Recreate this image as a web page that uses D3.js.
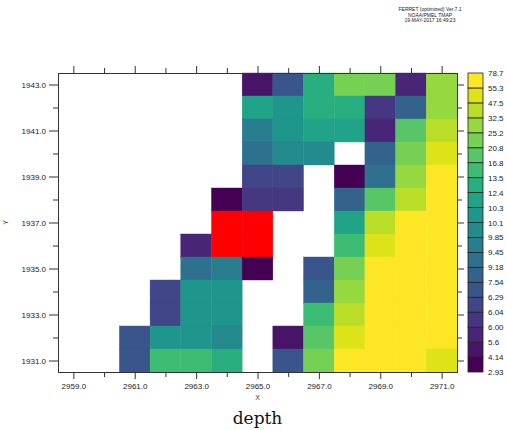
<!DOCTYPE html>
<html>
<head>
<meta charset="utf-8">
<script src="https://cdn.jsdelivr.net/npm/d3@7"></script>
<style>
  html, body { margin: 0; padding: 0; background: #fff; }
  svg { display: block; }
  text { font-family: "Liberation Sans", Arial, sans-serif; }
</style>
</head>
<body>
<svg id="chart" width="507" height="430"></svg>
<script>
// ---- data ----
const xCats = [2959, 2960, 2961, 2962, 2963, 2964, 2965, 2966, 2967, 2968, 2969, 2970, 2971];
const yCats = [1943, 1942, 1941, 1940, 1939, 1938, 1937, 1936, 1935, 1934, 1933, 1932, 1931];
const R = 90; // out-of-range (shown red)
const depth = [
  [null,null,null,null,null,null, 4.9, 6.9, 13.0, 23.0, 23.0, 5.8, 28.8],
  [null,null,null,null,null,null, 11.3, 10.2, 13.0, 13.0, 6.02, 8.4, 28.8],
  [null,null,null,null,null,null, 9.65, 10.2, 11.3, 11.3, 5.8, 18.8, 40.0],
  [null,null,null,null,null,null, 9.3, 9.97, 9.97, null, 8.4, 23.0, 51.4],
  [null,null,null,null,null,null, 6.15, 6.15, null, 3.5, 9.3, 28.8, 67.0],
  [null,null,null,null,null, 3.5, 6.02, 6.02, null, 8.4, 18.8, 40.0, 67.0],
  [null,null,null,null,null, R, R, null, null, 11.3, 40.0, 67.0, 67.0],
  [null,null,null,null, 5.8, R, R, null, null, 15.1, 51.4, 67.0, 67.0],
  [null,null,null,null, 9.3, 9.65, 3.5, null, 6.9, 23.0, 67.0, 67.0, 67.0],
  [null,null,null, 6.15, 10.2, 10.2, null, null, 8.4, 28.8, 67.0, 67.0, 67.0],
  [null,null,null, 6.15, 10.2, 10.2, null, null, 15.1, 40.0, 67.0, 67.0, 67.0],
  [null,null, 6.9, 10.2, 10.2, 9.97, null, 4.9, 18.8, 51.4, 67.0, 67.0, 67.0],
  [null,null, 6.9, 15.1, 15.1, 13.0, null, 6.9, 23.0, 67.0, 67.0, 67.0, 51.4]
];
const levels = [2.93, 4.14, 5.6, 6.00, 6.04, 6.29, 7.54, 9.18, 9.45, 9.85, 10.1, 10.3, 12.4, 13.5, 16.8, 20.8, 25.2, 32.5, 47.5, 55.3, 78.7];
const levelLabels = ["2.93","4.14","5.6","6.00","6.04","6.29","7.54","9.18","9.45","9.85","10.1","10.3","12.4","13.5","16.8","20.8","25.2","32.5","47.5","55.3","78.7"];
const xTicks = [2959, 2960, 2961, 2962, 2963, 2964, 2965, 2966, 2967, 2968, 2969, 2970, 2971];
const yTicks = [1931, 1932, 1933, 1934, 1935, 1936, 1937, 1938, 1939, 1940, 1941, 1942, 1943];
const headerLines = ["FERRET (optimized) Ver.7.1", "NOAA/PMEL TMAP", "19-MAY-2017 16:49:23"];

// ---- layout ----
const svg = d3.select("#chart");
const L = 58, Rt = 457, T = 73, B = 372;
const x = d3.scaleLinear().domain([2958.5, 2971.5]).range([L, Rt]);
const y = d3.scaleLinear().domain([1930.5, 1943.5]).range([B, T]);

const nBands = levels.length - 1;
const bandColors = d3.range(nBands).map(k => d3.interpolateViridis(k / (nBands - 1)));
const color = d3.scaleThreshold()
  .domain(levels)
  .range([bandColors[0], ...bandColors, "#ff0000"]);

// ---- cells ----
const cells = [];
depth.forEach((row, i) => row.forEach((v, j) => {
  if (v !== null) cells.push({ xv: xCats[j], yv: yCats[i], v });
}));
svg.append("g").selectAll("rect").data(cells).join("rect")
  .attr("x", d => x(d.xv - 0.5))
  .attr("y", d => y(d.yv + 0.5))
  .attr("width", d => x(d.xv + 0.5) - x(d.xv - 0.5))
  .attr("height", d => y(d.yv - 0.5) - y(d.yv + 0.5))
  .attr("fill", d => color(d.v))
  .attr("stroke", d => color(d.v))
  .attr("stroke-width", 0.4);

// ---- axes ----
const axisColor = "#333";
function styleAxis(g) {
  g.select(".domain").attr("stroke", axisColor);
  g.selectAll(".tick line").attr("stroke", axisColor);
  g.selectAll(".tick text").attr("fill", "#222").style("font-size", "8px");
}
const fmt = d => d.toFixed(1);
const xMajor = xTicks.filter(d => d % 2 === 1);
const xMinor = xTicks.filter(d => d % 2 === 0);
const yMajor = yTicks.filter(d => d % 2 === 1);
const yMinor = yTicks.filter(d => d % 2 === 0);

// bottom
svg.append("g").attr("transform", `translate(0,${B})`)
  .call(d3.axisBottom(x).tickValues(xMinor).tickSize(5).tickFormat("").tickSizeOuter(0)).call(styleAxis);
svg.append("g").attr("transform", `translate(0,${B})`)
  .call(d3.axisBottom(x).tickValues(xMajor).tickSize(7).tickPadding(4).tickFormat(fmt).tickSizeOuter(0)).call(styleAxis);
// top
svg.append("g").attr("transform", `translate(0,${T})`)
  .call(d3.axisTop(x).tickValues(xMinor).tickSize(5).tickFormat("").tickSizeOuter(0)).call(styleAxis);
svg.append("g").attr("transform", `translate(0,${T})`)
  .call(d3.axisTop(x).tickValues(xMajor).tickSize(7).tickFormat("").tickSizeOuter(0)).call(styleAxis);
// left
svg.append("g").attr("transform", `translate(${L},0)`)
  .call(d3.axisLeft(y).tickValues(yMinor).tickSize(5).tickFormat("").tickSizeOuter(0)).call(styleAxis);
svg.append("g").attr("transform", `translate(${L},0)`)
  .call(d3.axisLeft(y).tickValues(yMajor).tickSize(9).tickPadding(3).tickFormat(fmt).tickSizeOuter(0)).call(styleAxis);
// right
svg.append("g").attr("transform", `translate(${Rt},0)`)
  .call(d3.axisRight(y).tickValues(yMinor).tickSize(5).tickFormat("").tickSizeOuter(0)).call(styleAxis);
svg.append("g").attr("transform", `translate(${Rt},0)`)
  .call(d3.axisRight(y).tickValues(yMajor).tickSize(7).tickFormat("").tickSizeOuter(0)).call(styleAxis);

// ---- axis titles ----
svg.append("text").attr("x", (L + Rt) / 2).attr("y", 400).attr("text-anchor", "middle")
  .style("font-size", "7px").attr("fill", "#333").text("X");
svg.append("text").attr("transform", `translate(8,${y(1937)}) rotate(-90)`).attr("text-anchor", "middle")
  .style("font-size", "7px").attr("fill", "#333").text("Y");
svg.append("text").attr("x", (L + Rt) / 2).attr("y", 424).attr("text-anchor", "middle")
  .style("font-family", "'DejaVu Serif', 'Liberation Serif', serif").style("font-size", "17px")
  .attr("fill", "#111").text("depth");

// ---- header ----
svg.append("g").selectAll("text").data(headerLines).join("text")
  .attr("x", 430).attr("y", (d, i) => 11 + i * 5.5).attr("text-anchor", "middle")
  .style("font-size", "5px").attr("fill", "#222").text(d => d);

// ---- colorbar ----
const cbX = 468, cbW = 15;
const cy = d3.scaleLinear().domain([0, nBands]).range([B, T]);
const cb = svg.append("g");
cb.selectAll("rect").data(d3.range(nBands)).join("rect")
  .attr("x", cbX).attr("y", k => cy(k + 1)).attr("width", cbW)
  .attr("height", k => cy(k) - cy(k + 1))
  .attr("fill", k => bandColors[k]).attr("stroke", "#222").attr("stroke-width", 0.8);
cb.selectAll("text").data(levelLabels).join("text")
  .attr("x", cbX + cbW + 5).attr("y", (d, i) => cy(i) + 3)
  .style("font-size", "8px").attr("fill", "#222").text(d => d);
</script>
</body>
</html>
